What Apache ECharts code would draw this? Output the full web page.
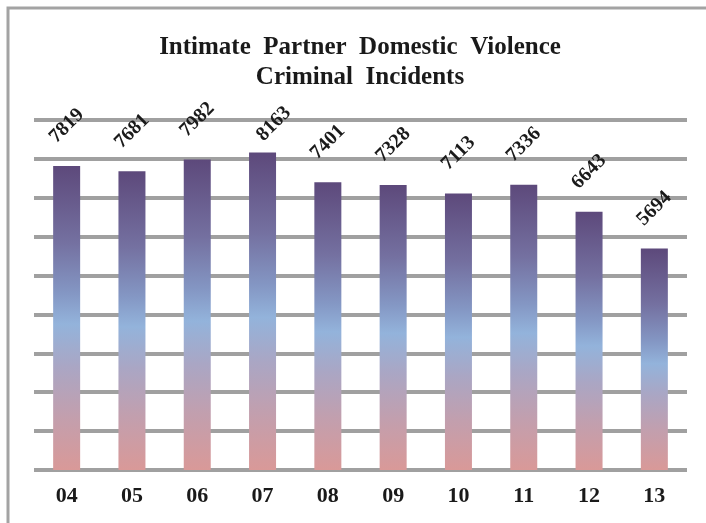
<!DOCTYPE html>
<html>
<head>
<meta charset="utf-8">
<script src="https://cdn.jsdelivr.net/npm/echarts@6/dist/echarts.min.js"></script>
<style>
  html, body { margin: 0; padding: 0; background: #fff; }
  #chart { width: 706px; height: 523px; }
</style>
</head>
<body>
<div id="chart"></div>
<script>
const years = ['04', '05', '06', '07', '08', '09', '10', '11', '12', '13']
const incidents = [7819, 7681, 7982, 8163, 7401, 7328, 7113, 7336, 6643, 5694]
const titleLines = ['Intimate  Partner  Domestic  Violence', 'Criminal  Incidents']

const serif = '"Liberation Serif", "Times New Roman", serif'

const chart = echarts.init(document.getElementById('chart'))

const barColor = new echarts.graphic.LinearGradient(0, 0, 0, 1, [
  { offset: 0, color: '#5d497b' },
  { offset: 0.25, color: '#7470a0' },
  { offset: 0.42, color: '#8497c4' },
  { offset: 0.52, color: '#93b3db' },
  { offset: 0.66, color: '#aaa6c4' },
  { offset: 0.82, color: '#c29fae' },
  { offset: 1, color: '#d99998' }
])

chart.setOption({
  animation: false,
  title: {
    text: titleLines.join('\n'),
    left: 355,
    top: 28,
    textAlign: 'center',
    textStyle: {
      fontFamily: serif,
      fontWeight: 'bold',
      fontSize: 25,
      lineHeight: 30,
      color: '#1a1a1a'
    }
  },
  graphic: [{
    type: 'rect',
    shape: { x: 8, y: 8, width: 760, height: 560 },
    style: { fill: 'none', stroke: '#a3a3a3', lineWidth: 3 },
    silent: true
  }],
  grid: { left: 34, right: 19, top: 120, bottom: 53 },
  xAxis: {
    type: 'category',
    data: years,
    axisLine: { show: false },
    axisTick: { show: false },
    axisLabel: {
      margin: 15,
      fontFamily: serif,
      fontWeight: 'bold',
      fontSize: 22,
      color: '#1a1a1a'
    }
  },
  yAxis: {
    type: 'value',
    min: 0,
    max: 9000,
    interval: 1000,
    axisLabel: { show: false },
    axisLine: { show: false },
    axisTick: { show: false },
    splitLine: { lineStyle: { color: '#a0a0a0', width: 4 } }
  },
  series: [{
    type: 'bar',
    data: incidents,
    barWidth: 27,
    itemStyle: { color: barColor },
    label: {
      show: true,
      position: 'top',
      distance: 40,
      rotate: 45,
      align: 'center',
      verticalAlign: 'middle',
      fontFamily: serif,
      fontWeight: 'bold',
      fontSize: 20,
      color: '#1a1a1a'
    },
    // the tallest bar's label is pushed down so it stays inside the plot
    labelLayout: function (params) {
      if (params.rect.y < 155) return { dy: 16 }
      return {}
    }
  }]
})
</script>
</body>
</html>
